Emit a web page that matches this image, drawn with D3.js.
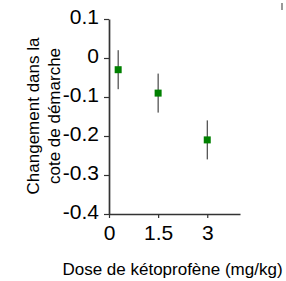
<!DOCTYPE html>
<html><head><meta charset="utf-8">
<script src="https://cdn.jsdelivr.net/npm/d3@7"></script>
<style>body{margin:0;background:#fff}svg{display:block}</style>
</head><body>
<script>
const doseLabels = ["0", "1.5", "3"];
const doseX = [0.28, 1.5, 3];
const means = [-0.03, -0.09, -0.21];
const lower = [-0.08, -0.14, -0.26];
const upper = [0.02, -0.04, -0.16];
const yTicks = [0.1, 0, -0.1, -0.2, -0.3, -0.4];
const yTickLabels = ["0.1", "0", "-0.1", "-0.2", "-0.3", "-0.4"];
const xTicks = [0, 1.5, 3];
const xTickLabels = ["0", "1.5", "3"];
const yTitle = ["Changement dans la", "cote de démarche"];
const xTitle = "Dose de kétoprofène (mg/kg)";

const W = 286, H = 281;
const svg = d3.select("body").append("svg").attr("width", W).attr("height", H);
const font = "'Liberation Sans', Arial, Helvetica, sans-serif";

const x = d3.scaleLinear().domain([0, 4]).range([109, 240]);
const y = d3.scaleLinear().domain([-0.4, 0.1]).range([214, 19]);

const axisColor = "#333";

// Y axis
const ya = svg.append("g").attr("transform", `translate(${x(0)},0)`)
  .call(d3.axisLeft(y).tickValues(yTicks).tickSize(5).tickSizeOuter(0)
    .tickFormat((d, i) => yTickLabels[i]));
ya.select(".domain").attr("stroke", axisColor).attr("stroke-width", 1.7);
ya.selectAll(".tick line").attr("stroke", axisColor).attr("stroke-width", 1.2);
ya.selectAll(".tick text").attr("font-family", font).attr("font-size", 21)
  .attr("fill", "#000").attr("x", -10).attr("dy", null).attr("y", 4.5);

// X axis
const xa = svg.append("g").attr("transform", `translate(0,${y(-0.4)})`)
  .call(d3.axisBottom(x).tickValues(xTicks).tickSize(4).tickSizeOuter(0)
    .tickFormat((d, i) => xTickLabels[i]));
xa.select(".domain").attr("stroke", axisColor).attr("stroke-width", 1.7);
xa.selectAll(".tick line").attr("stroke", axisColor).attr("stroke-width", 1.2);
xa.selectAll(".tick text").attr("font-family", font).attr("font-size", 21)
  .attr("fill", "#000").attr("dy", null).attr("y", 26);

// error bars
const data = doseLabels.map((d, i) => ({ x: doseX[i], m: means[i], lo: lower[i], hi: upper[i] }));
svg.append("g").selectAll("line").data(data).join("line")
  .attr("x1", d => x(d.x)).attr("x2", d => x(d.x))
  .attr("y1", d => y(d.hi)).attr("y2", d => y(d.lo))
  .attr("stroke", "#222").attr("stroke-width", 1);

// markers
const ms = 7;
svg.append("g").selectAll("rect").data(data).join("rect")
  .attr("x", d => x(d.x) - ms / 2).attr("y", d => y(d.m) - ms / 2)
  .attr("width", ms).attr("height", ms).attr("fill", "#008000");

// Y title
yTitle.forEach((t, i) => {
  svg.append("text").attr("transform", `translate(${39 + i * 21},116) rotate(-90)`)
    .attr("text-anchor", "middle").attr("font-family", font).attr("font-size", 17)
    .attr("fill", "#000").text(t);
});

// X title
svg.append("text").attr("x", 172.5).attr("y", 275).attr("text-anchor", "middle")
  .attr("font-family", font).attr("font-size", 17).attr("fill", "#000").text(xTitle);

// small artifact mark at top right
svg.append("line").attr("x1", 282).attr("x2", 282).attr("y1", 3).attr("y2", 10)
  .attr("stroke", "#777").attr("stroke-width", 1.5);
</script>
</body></html>
